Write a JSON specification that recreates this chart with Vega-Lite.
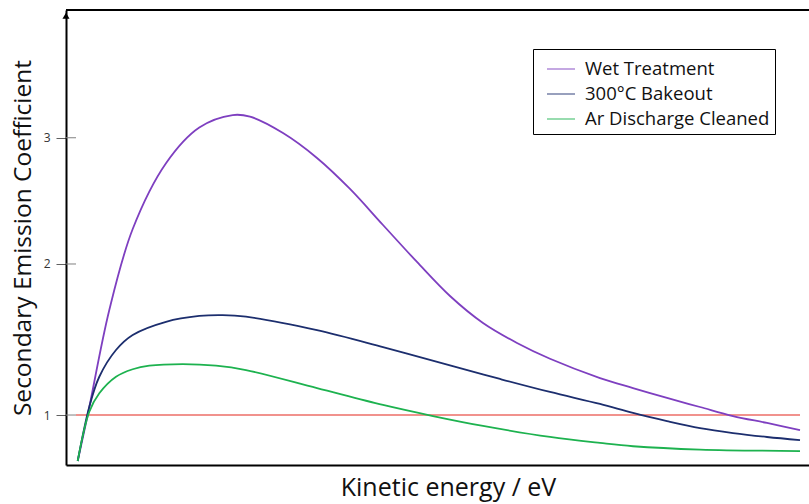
{
  "$schema": "https://vega.github.io/schema/vega-lite/v6.json",
  "width": 743,
  "height": 455,
  "autosize": {"type": "none"},
  "padding": {"left": 66, "top": 10, "right": 0, "bottom": 39},
  "background": "white",
  "config": {"view": {"stroke": null}, "font": "Open Sans"},
  "datasets": {
    "curves": [
      {"energy": 11.7, "coefficient": 0.745, "series": "Wet Treatment"},
      {"energy": 21.7, "coefficient": 1.0, "series": "Wet Treatment"},
      {"energy": 43.3, "coefficient": 1.671, "series": "Wet Treatment"},
      {"energy": 66.7, "coefficient": 2.263, "series": "Wet Treatment"},
      {"energy": 100, "coefficient": 2.787, "series": "Wet Treatment"},
      {"energy": 133.3, "coefficient": 3.087, "series": "Wet Treatment"},
      {"energy": 166.7, "coefficient": 3.194, "series": "Wet Treatment"},
      {"energy": 184, "coefficient": 3.18, "series": "Wet Treatment"},
      {"energy": 217, "coefficient": 3.04, "series": "Wet Treatment"},
      {"energy": 251, "coefficient": 2.831, "series": "Wet Treatment"},
      {"energy": 284, "coefficient": 2.578, "series": "Wet Treatment"},
      {"energy": 317, "coefficient": 2.294, "series": "Wet Treatment"},
      {"energy": 351, "coefficient": 2.015, "series": "Wet Treatment"},
      {"energy": 384, "coefficient": 1.769, "series": "Wet Treatment"},
      {"energy": 417, "coefficient": 1.582, "series": "Wet Treatment"},
      {"energy": 451, "coefficient": 1.448, "series": "Wet Treatment"},
      {"energy": 484, "coefficient": 1.345, "series": "Wet Treatment"},
      {"energy": 534, "coefficient": 1.223, "series": "Wet Treatment"},
      {"energy": 567, "coefficient": 1.161, "series": "Wet Treatment"},
      {"energy": 601, "coefficient": 1.101, "series": "Wet Treatment"},
      {"energy": 634, "coefficient": 1.047, "series": "Wet Treatment"},
      {"energy": 667, "coefficient": 0.994, "series": "Wet Treatment"},
      {"energy": 701, "coefficient": 0.954, "series": "Wet Treatment"},
      {"energy": 734, "coefficient": 0.914, "series": "Wet Treatment"},

      {"energy": 11.7, "coefficient": 0.745, "series": "300°C Bakeout"},
      {"energy": 23.3, "coefficient": 1.049, "series": "300°C Bakeout"},
      {"energy": 33.3, "coefficient": 1.231, "series": "300°C Bakeout"},
      {"energy": 50, "coefficient": 1.402, "series": "300°C Bakeout"},
      {"energy": 66.7, "coefficient": 1.501, "series": "300°C Bakeout"},
      {"energy": 100, "coefficient": 1.59, "series": "300°C Bakeout"},
      {"energy": 133.3, "coefficient": 1.63, "series": "300°C Bakeout"},
      {"energy": 156.7, "coefficient": 1.636, "series": "300°C Bakeout"},
      {"energy": 180, "coefficient": 1.625, "series": "300°C Bakeout"},
      {"energy": 251, "coefficient": 1.534, "series": "300°C Bakeout"},
      {"energy": 317, "coefficient": 1.421, "series": "300°C Bakeout"},
      {"energy": 384, "coefficient": 1.302, "series": "300°C Bakeout"},
      {"energy": 434, "coefficient": 1.217, "series": "300°C Bakeout"},
      {"energy": 484, "coefficient": 1.137, "series": "300°C Bakeout"},
      {"energy": 534, "coefficient": 1.065, "series": "300°C Bakeout"},
      {"energy": 567, "coefficient": 1.012, "series": "300°C Bakeout"},
      {"energy": 601, "coefficient": 0.965, "series": "300°C Bakeout"},
      {"energy": 634, "coefficient": 0.925, "series": "300°C Bakeout"},
      {"energy": 667, "coefficient": 0.897, "series": "300°C Bakeout"},
      {"energy": 701, "coefficient": 0.875, "series": "300°C Bakeout"},
      {"energy": 734, "coefficient": 0.858, "series": "300°C Bakeout"},

      {"energy": 11.7, "coefficient": 0.745, "series": "Ar Discharge Cleaned"},
      {"energy": 23.3, "coefficient": 1.019, "series": "Ar Discharge Cleaned"},
      {"energy": 33.3, "coefficient": 1.129, "series": "Ar Discharge Cleaned"},
      {"energy": 50, "coefficient": 1.231, "series": "Ar Discharge Cleaned"},
      {"energy": 66.7, "coefficient": 1.278, "series": "Ar Discharge Cleaned"},
      {"energy": 83.3, "coefficient": 1.301, "series": "Ar Discharge Cleaned"},
      {"energy": 116.7, "coefficient": 1.311, "series": "Ar Discharge Cleaned"},
      {"energy": 150, "coefficient": 1.301, "series": "Ar Discharge Cleaned"},
      {"energy": 180, "coefficient": 1.273, "series": "Ar Discharge Cleaned"},
      {"energy": 251, "coefficient": 1.161, "series": "Ar Discharge Cleaned"},
      {"energy": 317, "coefficient": 1.059, "series": "Ar Discharge Cleaned"},
      {"energy": 367, "coefficient": 0.994, "series": "Ar Discharge Cleaned"},
      {"energy": 417, "coefficient": 0.937, "series": "Ar Discharge Cleaned"},
      {"energy": 484, "coefficient": 0.875, "series": "Ar Discharge Cleaned"},
      {"energy": 534, "coefficient": 0.842, "series": "Ar Discharge Cleaned"},
      {"energy": 567, "coefficient": 0.824, "series": "Ar Discharge Cleaned"},
      {"energy": 634, "coefficient": 0.806, "series": "Ar Discharge Cleaned"},
      {"energy": 734, "coefficient": 0.798, "series": "Ar Discharge Cleaned"}
    ],
    "ticks": [{"coefficient": 1}, {"coefficient": 2}, {"coefficient": 3}]
  },
  "layer": [
    {
      "data": {"name": "ticks"},
      "mark": {"type": "rule", "color": "#808080", "strokeWidth": 1},
      "encoding": {
        "x": {"datum": 0, "type": "quantitative", "scale": {"domain": [0, 743], "nice": false, "zero": false}},
        "x2": {"datum": 10},
        "y": {"field": "coefficient", "type": "quantitative", "scale": {"type": "pow", "exponent": 0.66, "domain": [0.724, 4.144], "nice": false, "zero": false}}
      }
    },
    {
      "data": {"name": "ticks"},
      "transform": [{"filter": "datum.coefficient == 1"}],
      "mark": {"type": "rule", "color": "#e3261c", "strokeWidth": 1.1},
      "encoding": {
        "x": {"datum": 10, "type": "quantitative"},
        "x2": {"datum": 734},
        "y": {"field": "coefficient", "type": "quantitative"}
      }
    },
    {
      "data": {"name": "curves"},
      "mark": {"type": "line", "interpolate": "catmull-rom", "strokeWidth": 1.8},
      "encoding": {
        "x": {
          "field": "energy",
          "type": "quantitative",
          "scale": {"domain": [0, 743], "nice": false, "zero": false},
          "axis": {
            "title": "Kinetic energy / eV",
            "labels": false,
            "ticks": false,
            "grid": false,
            "domainColor": "black",
            "domainWidth": 2,
            "titleFont": "Open Sans",
            "titleFontSize": 25,
            "titleFontWeight": "normal",
            "titleColor": "#111",
            "titlePadding": 10,
            "titleX": 382
          }
        },
        "y": {
          "field": "coefficient",
          "type": "quantitative",
          "scale": {"type": "pow", "exponent": 0.66, "domain": [0.724, 4.144], "nice": false, "zero": false},
          "axis": {
            "title": "Secondary Emission Coefficient",
            "values": [1, 2, 3],
            "format": "d",
            "grid": false,
            "domainColor": "black",
            "domainWidth": 2,
            "tickColor": "#606060",
            "tickSize": 10,
            "labelFont": "Open Sans",
            "labelFontSize": 12,
            "labelColor": "#333",
            "labelPadding": 6,
            "titleFont": "Open Sans",
            "titleFontSize": 24.5,
            "titleFontWeight": "normal",
            "titleColor": "#111",
            "titlePadding": 8
          }
        },
        "color": {
          "field": "series",
          "type": "nominal",
          "sort": ["Wet Treatment", "300°C Bakeout", "Ar Discharge Cleaned"],
          "scale": {
            "domain": ["Wet Treatment", "300°C Bakeout", "Ar Discharge Cleaned"],
            "range": ["#7e3fc0", "#1c2e6e", "#1db24f"]
          },
          "legend": {
            "orient": "none",
            "legendX": 467,
            "legendY": 39,
            "title": null,
            "strokeColor": "black",
            "fillColor": "white",
            "padding": 5,
            "symbolOffset": 8,
            "symbolType": "stroke",
            "symbolSize": 784,
            "symbolStrokeWidth": 1.5,
            "symbolOpacity": 0.6,
            "labelFont": "Open Sans",
            "labelFontSize": 18.5,
            "labelColor": "#111",
            "labelOffset": 9,
            "labelLimit": 400,
            "rowPadding": -1
          }
        }
      }
    },
    {
      "data": {"values": [{}]},
      "mark": {"type": "rule", "color": "black", "strokeWidth": 2},
      "encoding": {
        "y": {"datum": 4.144, "type": "quantitative"}
      }
    },
    {
      "data": {"values": [{}]},
      "mark": {"type": "point", "shape": "triangle-up", "filled": true, "color": "black", "size": 50, "opacity": 1},
      "encoding": {
        "x": {"datum": 0, "type": "quantitative"},
        "y": {"datum": 4.09, "type": "quantitative"}
      }
    }
  ]
}
